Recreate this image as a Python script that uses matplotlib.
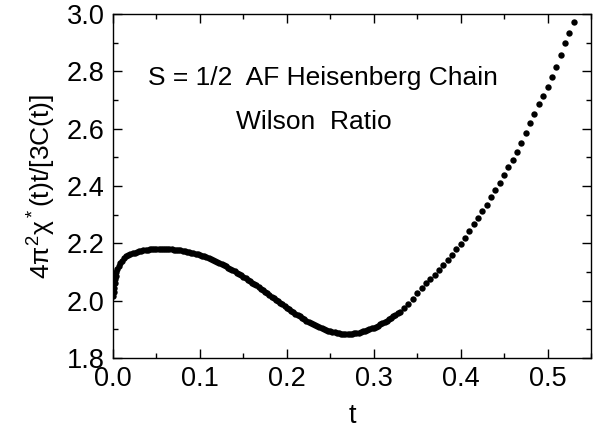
import matplotlib
matplotlib.use("Agg")
import matplotlib.pyplot as plt
from matplotlib.ticker import MultipleLocator

plt.rcParams['font.family'] = ['Liberation Sans', 'DejaVu Sans']
plt.rcParams['mathtext.fontset'] = 'custom'
plt.rcParams['mathtext.rm'] = 'Liberation Sans'
plt.rcParams['mathtext.it'] = 'Liberation Sans:italic'

# reduced temperature t and Wilson ratio
t = [0.0005, 0.001, 0.0015, 0.002, 0.0025, 0.003, 0.004, 0.005, 0.0065, 0.008,
     0.010, 0.0125, 0.015,
     0.020, 0.025, 0.030, 0.035, 0.040, 0.045, 0.050, 0.055, 0.060, 0.065,
     0.070, 0.075, 0.080, 0.085, 0.090, 0.095, 0.100, 0.105, 0.110, 0.115,
     0.120, 0.125, 0.130, 0.135, 0.140, 0.145, 0.150, 0.155, 0.160, 0.165,
     0.170, 0.175, 0.180, 0.185, 0.190, 0.195, 0.200, 0.205, 0.210, 0.215,
     0.220, 0.225, 0.230, 0.235, 0.240, 0.245, 0.250, 0.255, 0.260, 0.265,
     0.270, 0.275, 0.280, 0.285, 0.290, 0.295, 0.300, 0.305, 0.310, 0.315,
     0.320, 0.325, 0.330, 0.335, 0.340, 0.345, 0.350, 0.355, 0.360, 0.365,
     0.370, 0.375, 0.380, 0.385, 0.390, 0.395, 0.400, 0.405, 0.410, 0.415,
     0.420, 0.425, 0.430, 0.435, 0.440, 0.445, 0.450, 0.455, 0.460, 0.465,
     0.470, 0.475, 0.480, 0.485, 0.490, 0.495, 0.500, 0.505, 0.510, 0.515,
     0.520, 0.525, 0.530]
ratio = [2.015, 2.030, 2.045, 2.060, 2.075, 2.085, 2.100, 2.110, 2.120, 2.130,
         2.140, 2.148, 2.155,
         2.162, 2.168, 2.172, 2.175, 2.178, 2.179, 2.180, 2.181, 2.180, 2.179,
         2.178, 2.176, 2.174, 2.171, 2.168, 2.164, 2.160, 2.155, 2.150, 2.143,
         2.136, 2.128, 2.120, 2.111, 2.102, 2.093, 2.083, 2.073, 2.063, 2.053,
         2.042, 2.031, 2.020, 2.009, 1.998, 1.987, 1.976, 1.965, 1.955, 1.945,
         1.935, 1.926, 1.918, 1.910, 1.903, 1.897, 1.893, 1.889, 1.886, 1.884,
         1.884, 1.885, 1.887, 1.890, 1.895, 1.900, 1.906, 1.913, 1.921, 1.930,
         1.940, 1.950, 1.961, 1.975, 1.990, 2.007, 2.025, 2.043, 2.060, 2.075,
         2.090, 2.106, 2.123, 2.141, 2.160, 2.179, 2.198, 2.220, 2.243, 2.266,
         2.290, 2.312, 2.335, 2.360, 2.385, 2.412, 2.440, 2.465, 2.490, 2.520,
         2.550, 2.585, 2.620, 2.652, 2.685, 2.715, 2.745, 2.780, 2.815, 2.857,
         2.900, 2.935, 2.973]

# the dense low-t stretch has points between the ones above
t_mid = [0.0175, 0.0225, 0.0275, 0.0325, 0.0375, 0.0425, 0.0475, 0.0525,
         0.0575, 0.0625, 0.0675, 0.0725, 0.0775, 0.0825, 0.0875, 0.0925,
         0.0975, 0.1025, 0.1075, 0.1125, 0.1175, 0.1225, 0.1275, 0.1325,
         0.1375, 0.1425, 0.1475, 0.1525, 0.1575, 0.1625, 0.1675, 0.1725,
         0.1775, 0.1825, 0.1875, 0.1925, 0.1975, 0.2025, 0.2075, 0.2125,
         0.2175, 0.2225, 0.2275, 0.2325, 0.2375, 0.2425, 0.2475, 0.2525,
         0.2575, 0.2625, 0.2675, 0.2725, 0.2775, 0.2825, 0.2875, 0.2925,
         0.2975, 0.3025, 0.3075, 0.3125, 0.3175, 0.3225, 0.3275]
ratio_mid = [2.159, 2.165, 2.170, 2.174, 2.177, 2.1785, 2.1795, 2.1805,
             2.1805, 2.1795, 2.1785, 2.177, 2.175, 2.1725, 2.1695, 2.166,
             2.162, 2.1575, 2.1525, 2.1465, 2.1395, 2.132, 2.124, 2.1155,
             2.1065, 2.0975, 2.088, 2.078, 2.068, 2.058, 2.0475, 2.0365,
             2.0255, 2.0145, 2.0035, 1.9925, 1.9815, 1.9705, 1.960, 1.950,
             1.940, 1.9305, 1.922, 1.914, 1.9065, 1.900, 1.895, 1.891,
             1.8875, 1.885, 1.884, 1.8845, 1.886, 1.8885, 1.8925, 1.8975,
             1.903, 1.9095, 1.917, 1.9255, 1.935, 1.945, 1.9555]

fig = plt.figure(figsize=(6.02, 4.32), dpi=100)
ax = fig.add_axes([0.1877, 0.1713, 0.794, 0.7963])

ax.plot(t, ratio, 'o', color='black', markersize=4.6, markeredgewidth=0)
ax.plot(t_mid, ratio_mid, 'o', color='black', markersize=4.6, markeredgewidth=0)

ax.set_xlim(0, 0.55)
ax.set_ylim(1.8, 3.0)
ax.xaxis.set_major_locator(MultipleLocator(0.1))
ax.xaxis.set_minor_locator(MultipleLocator(0.05))
ax.yaxis.set_major_locator(MultipleLocator(0.2))
ax.yaxis.set_minor_locator(MultipleLocator(0.1))
ax.tick_params(which='both', direction='in', top=True, right=True, width=1.0,
               labelsize=19.5)
ax.tick_params(which='major', length=6.5)
ax.tick_params(which='minor', length=3.6)
ax.tick_params(axis='x', pad=6)
ax.tick_params(axis='y', pad=6)
for s in ax.spines.values():
    s.set_linewidth(1.0)

ax.set_xlabel('t', fontsize=19.5, labelpad=8)
ax.set_ylabel(r'$\mathregular{4\pi^2\chi^*(t)t/[3C(t)]}$', fontsize=19, labelpad=6)

ax.text(0.241, 2.775, 'S = 1/2  AF Heisenberg Chain', fontsize=19,
        ha='center', va='center')
ax.text(0.231, 2.622, 'Wilson  Ratio', fontsize=19, ha='center', va='center')

fig.savefig('out.png', dpi=100)
